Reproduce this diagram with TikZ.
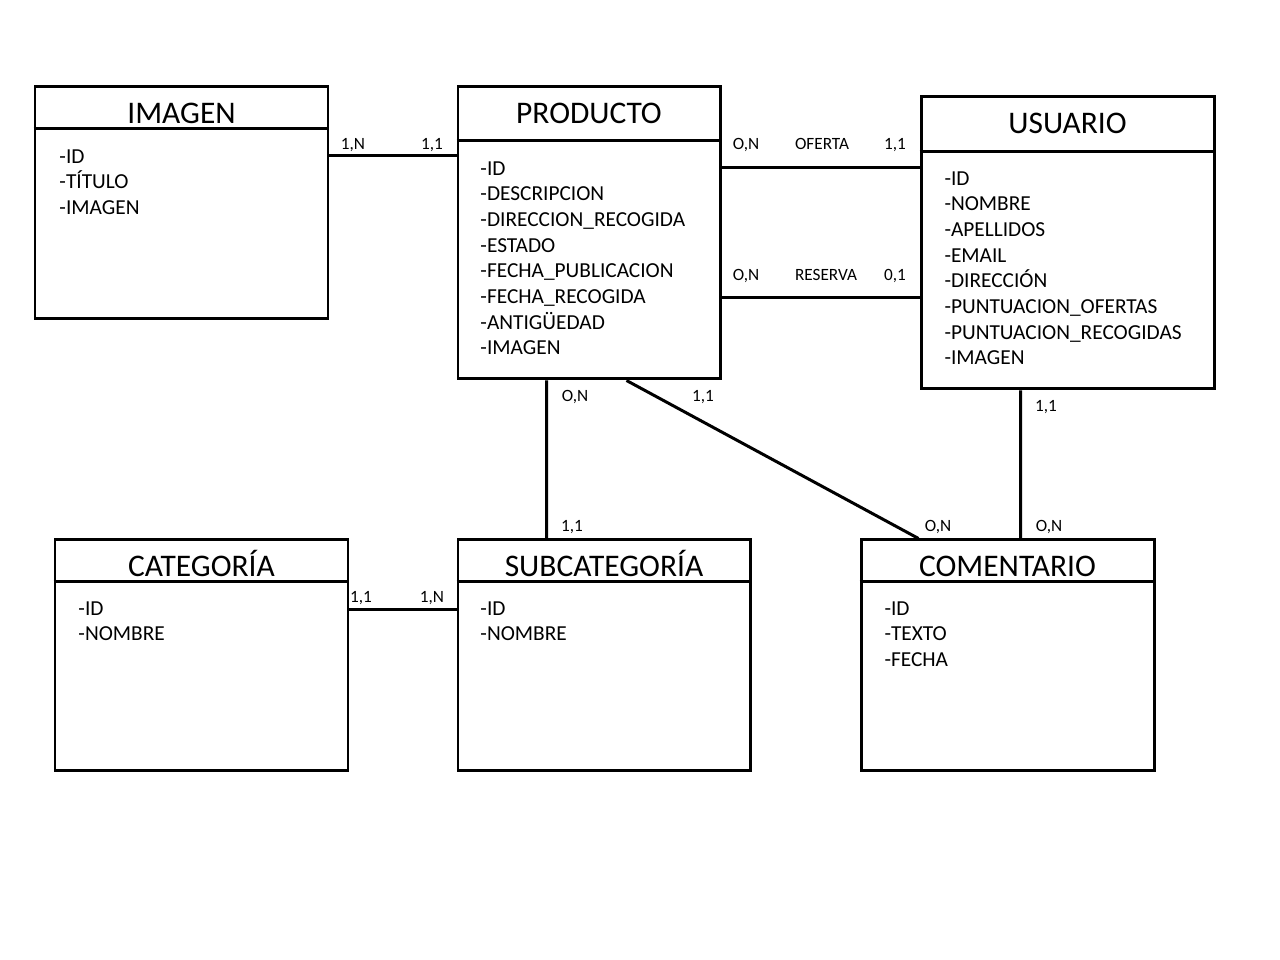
\documentclass[tikz,border=0pt]{standalone}
\usepackage{fontspec}
\setmainfont{Carlito}
\begin{document}
\begin{tikzpicture}
[entidad/.style={draw, line width=1.7pt, inner sep=0pt, minimum height=5.84cm},
 titulo/.style={font=\fontsize{17.9}{20}\selectfont, inner sep=0pt, text height=.4cm, text depth=0pt},
 atributos/.style={font=\fontsize{12.15}{14.6}\selectfont, align=left, inner sep=0pt, anchor=north west},
 card/.style={font=\fontsize{9.8}{11}\selectfont, inner sep=0pt, text height=.2cm, text depth=0pt},
 line width=1.7pt]
\useasboundingbox (0,0) rectangle (25.6,19.2);

% entidades
\node (imagen) at (3.63,15.14) [entidad, minimum width=5.86cm, minimum height=4.64cm] {};
\node (producto) at (11.78,14.54) [entidad, minimum width=5.24cm] {};
\node (usuario) at (21.35,14.34) [entidad, minimum width=5.86cm] {};
\node (categoria) at (4.03,6.09) [entidad, minimum width=5.86cm, minimum height=4.62cm] {};
\node (subcategoria) at (12.08,6.09) [entidad, minimum width=5.84cm, minimum height=4.62cm] {};
\node (comentario) at (20.15,6.09) [entidad, minimum width=5.86cm, minimum height=4.62cm] {};

\draw ([yshift=-.86cm]imagen.north west) -- ([yshift=-.86cm]imagen.north east);
\draw ([yshift=-1.10cm]producto.north west) -- ([yshift=-1.10cm]producto.north east);
\draw ([yshift=-1.12cm]usuario.north west) -- ([yshift=-1.12cm]usuario.north east);
\draw ([yshift=-.86cm]categoria.north west) -- ([yshift=-.86cm]categoria.north east);
\draw ([yshift=-.86cm]subcategoria.north west) -- ([yshift=-.86cm]subcategoria.north east);
\draw ([yshift=-.86cm]comentario.north west) -- ([yshift=-.86cm]comentario.north east);

\node (imagenT) at ([yshift=-.56cm]imagen.north) [titulo] {IMAGEN};
\node (productoT) at ([yshift=-.56cm]producto.north) [titulo] {PRODUCTO};
\node (usuarioT) at ([yshift=-.56cm]usuario.north) [titulo] {USUARIO};
\node (categoriaT) at ([yshift=-.56cm]categoria.north) [titulo] {CATEGORÍA};
\node (subcategoriaT) at ([yshift=-.56cm]subcategoria.north) [titulo] {SUBCATEGORÍA};
\node (comentarioT) at ([yshift=-.56cm]comentario.north) [titulo] {COMENTARIO};

\node (imagenA) at (1.16,16.24) [atributos] {-ID\\-TÍTULO\\-IMAGEN};
\node (productoA) at (9.58,16.00) [atributos] {-ID\\-DESCRIPCION\\-DIRECCION\_RECOGIDA\\-ESTADO\\-FECHA\_PUBLICACION\\-FECHA\_RECOGIDA\\-ANTIGÜEDAD\\-IMAGEN};
\node (usuarioA) at (18.86,15.80) [atributos] {-ID\\-NOMBRE\\-APELLIDOS\\-EMAIL\\-DIRECCIÓN\\-PUNTUACION\_OFERTAS\\-PUNTUACION\_RECOGIDAS\\-IMAGEN};
\node (categoriaA) at (1.54,7.20) [atributos] {-ID\\-NOMBRE};
\node (subcategoriaA) at (9.58,7.20) [atributos] {-ID\\-NOMBRE};
\node (comentarioA) at (17.66,7.20) [atributos] {-ID\\-TEXTO\\-FECHA};

% relaciones
\coordinate (tieneY) at (0,16.08);
\coordinate (ofertaY) at (0,15.84);
\coordinate (reservaY) at (0,13.24);
\coordinate (perteneceY) at (0,7.00);
\draw (imagen.east |- tieneY) -- (producto.west |- tieneY);
\draw (producto.east |- ofertaY) -- (usuario.west |- ofertaY);
\draw (producto.east |- reservaY) -- (usuario.west |- reservaY);
\draw (categoria.east |- perteneceY) -- (subcategoria.west |- perteneceY);
\draw ([xshift=1.80cm]producto.south west) -- ([xshift=1.80cm]subcategoria.north west);
\draw ([xshift=3.40cm]producto.south west) -- ([xshift=1.18cm]comentario.north west);
\draw ([xshift=2.02cm]usuario.south west) -- ([xshift=3.22cm]comentario.north west);

% cardinalidades
\node (c1) at (7.06,16.30) [card] {1,N};
\node (c2) at (8.64,16.30) [card] {1,1};
\node (c3) at (14.92,16.30) [card] {O,N};
\node (oferta) at (16.44,16.30) [card] {OFERTA};
\node (c4) at (17.90,16.30) [card] {1,1};
\node (c5) at (14.92,13.68) [card] {O,N};
\node (reserva) at (16.52,13.68) [card] {RESERVA};
\node (c6) at (17.90,13.68) [card] {0,1};
\node (c7) at (11.50,11.26) [card] {O,N};
\node (c8) at (11.44,8.66) [card] {1,1};
\node (c9) at (14.06,11.26) [card] {1,1};
\node (c10) at (18.76,8.66) [card] {O,N};
\node (c11) at (20.92,11.06) [card] {1,1};
\node (c12) at (20.98,8.66) [card] {O,N};
\node (c13) at (7.22,7.24) [card] {1,1};
\node (c14) at (8.64,7.24) [card] {1,N};
\end{tikzpicture}
\end{document}
